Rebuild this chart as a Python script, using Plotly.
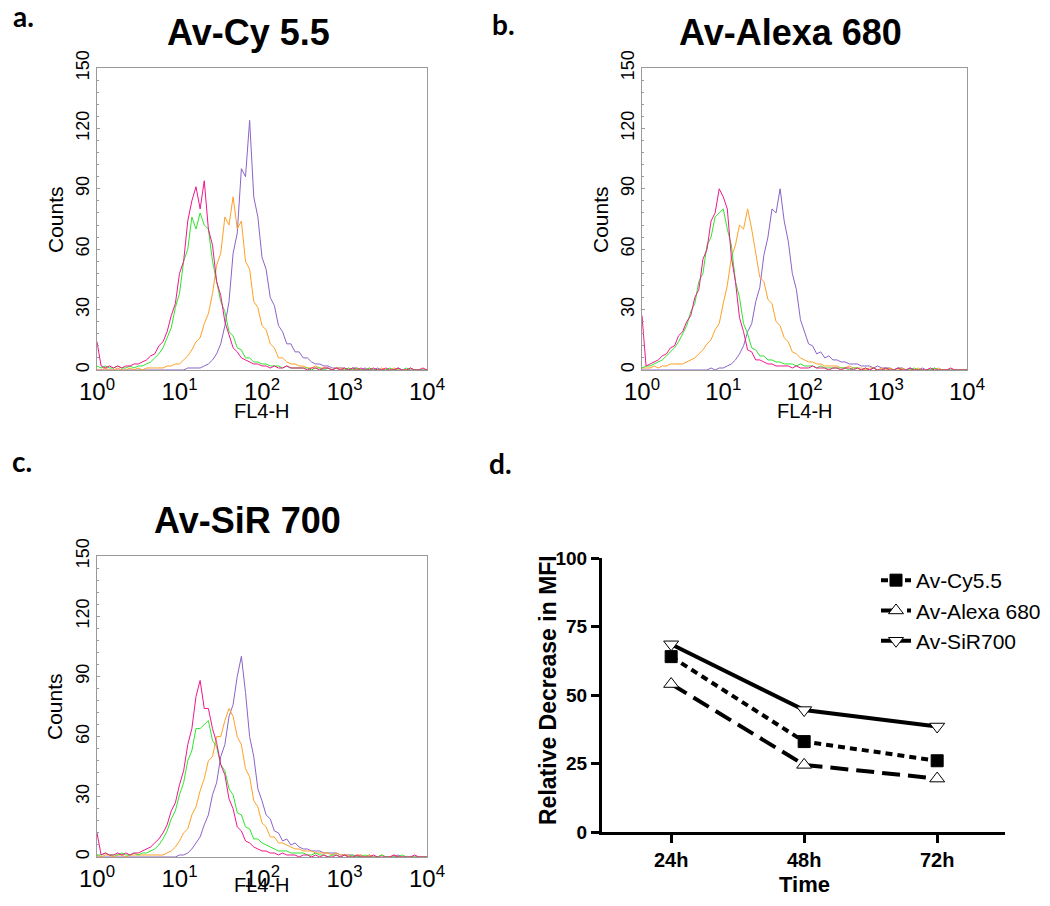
import plotly.graph_objects as go

# The page body keeps its default 8px margin, so the figure is drawn 8px in
# from the top-left corner; size it so it fits the 1050x906 window exactly.
PAGE_OFFSET = 8
W, H = 1050 - 2 * PAGE_OFFSET, 906 - 2 * PAGE_OFFSET


def fx(p):
    return (p - PAGE_OFFSET) / W


def fy(p):
    return 1 - (p - PAGE_OFFSET) / H


# ---------------- data ----------------
# channel positions (log10 of FL4-H), 0.05 decade bins
channel_log = [round(i * 0.05, 2) for i in range(81)]
channel = [10 ** v for v in channel_log]

# Panel a: Av-Cy 5.5
cy_magenta = [14, 2, 1, 2, 1, 2, 1, 2, 2, 3,
              3, 4, 5, 7, 8, 12, 14, 19, 27, 33,
              48, 54, 74, 84, 91, 80, 94, 70, 62, 44,
              37, 24, 18, 11, 9, 6, 5, 4, 3, 3,
              2, 2, 1, 2, 1, 1, 2, 1, 1, 1,
              1, 0, 1, 1, 0, 1, 1, 0, 1, 0,
              1, 0, 1, 0, 1, 0, 0, 1, 0, 0,
              1, 0, 0, 1, 0, 0, 1, 0, 0, 1,
              0]
cy_green = [2, 1, 2, 1, 1, 2, 1, 1, 2, 1,
            2, 2, 3, 4, 6, 8, 11, 16, 21, 31,
            38, 54, 60, 76, 70, 78, 72, 70, 54, 44,
            34, 29, 19, 17, 11, 10, 6, 6, 4, 4,
            3, 3, 2, 2, 2, 1, 2, 1, 1, 1,
            1, 1, 0, 1, 1, 0, 1, 0, 1, 0,
            0, 1, 0, 1, 0, 0, 1, 0, 0, 0,
            0, 1, 0, 0, 0, 1, 0, 0, 0, 0,
            0]
cy_orange = [0, 0, 1, 0, 0, 1, 0, 0, 1, 0,
             1, 0, 1, 1, 1, 1, 1, 2, 2, 3,
             3, 5, 7, 10, 14, 16, 23, 28, 38, 52,
             58, 76, 72, 86, 70, 74, 54, 50, 34, 31,
             22, 20, 13, 11, 6, 6, 4, 3, 3, 2,
             2, 1, 1, 2, 1, 1, 1, 0, 1, 1,
             0, 1, 0, 1, 0, 0, 1, 0, 0, 1,
             0, 0, 1, 0, 0, 0, 1, 0, 0, 0,
             0]
cy_purple = [0, 0, 0, 0, 0, 0, 0, 0, 0, 0,
             0, 0, 0, 0, 0, 0, 0, 0, 0, 0,
             0, 0, 1, 1, 1, 1, 2, 3, 5, 8,
             13, 22, 34, 58, 68, 100, 96, 124, 86, 76,
             56, 50, 36, 32, 22, 19, 13, 13, 9, 9,
             6, 6, 4, 3, 3, 2, 2, 1, 1, 1,
             1, 0, 1, 1, 0, 1, 0, 0, 1, 0,
             0, 0, 0, 1, 0, 0, 0, 0, 0, 0,
             0]

# Panel b: Av-Alexa 680
ax_magenta = [27, 2, 3, 4, 5, 7, 8, 11, 12, 17,
              19, 24, 27, 36, 40, 55, 60, 74, 78, 90,
              86, 80, 56, 44, 26, 19, 10, 9, 5, 5,
              4, 3, 3, 2, 2, 2, 2, 1, 2, 1,
              1, 1, 2, 1, 1, 1, 0, 1, 1, 0,
              1, 1, 0, 1, 0, 1, 0, 1, 0, 0,
              1, 0, 0, 1, 0, 0, 1, 0, 0, 0,
              0, 1, 0, 0, 0, 0, 1, 0, 0, 0,
              0]
ax_green = [1, 2, 2, 3, 4, 5, 7, 9, 11, 14,
            18, 22, 29, 33, 44, 48, 62, 66, 76, 78,
            80, 70, 62, 44, 36, 23, 18, 11, 10, 7,
            7, 5, 5, 4, 4, 3, 3, 3, 2, 3,
            2, 2, 2, 1, 2, 1, 1, 1, 1, 1,
            1, 0, 1, 1, 0, 1, 0, 1, 0, 0,
            1, 0, 0, 1, 0, 0, 0, 1, 0, 0,
            0, 0, 1, 0, 0, 0, 0, 0, 0, 0,
            0]
ax_orange = [1, 1, 1, 2, 1, 2, 2, 3, 3, 3,
             3, 4, 5, 6, 8, 10, 13, 15, 20, 23,
             33, 42, 56, 62, 72, 70, 80, 70, 58, 46,
             44, 35, 33, 24, 22, 16, 14, 9, 8, 6,
             5, 4, 4, 3, 3, 2, 2, 2, 2, 1,
             1, 2, 1, 1, 1, 0, 1, 1, 0, 1,
             0, 1, 0, 0, 1, 0, 0, 0, 1, 0,
             0, 0, 0, 1, 0, 0, 0, 0, 0, 0,
             0]
ax_purple = [0, 0, 0, 0, 0, 0, 0, 0, 0, 0,
             0, 0, 0, 0, 0, 0, 0, 1, 0, 1,
             1, 2, 3, 5, 8, 12, 19, 23, 34, 41,
             57, 66, 80, 78, 90, 74, 64, 48, 40, 25,
             19, 13, 12, 8, 9, 6, 7, 5, 5, 4,
             4, 3, 3, 3, 2, 2, 2, 1, 2, 1,
             1, 1, 0, 1, 1, 0, 1, 0, 0, 1,
             0, 0, 1, 0, 0, 0, 0, 0, 0, 0,
             0]

# Panel c: Av-SiR 700
sir_magenta = [12, 1, 2, 1, 1, 2, 1, 2, 1, 2,
               2, 3, 4, 5, 7, 9, 12, 16, 23, 27,
               36, 43, 56, 64, 80, 88, 74, 74, 64, 57,
               46, 41, 29, 24, 15, 13, 8, 7, 5, 4,
               3, 3, 2, 2, 1, 2, 1, 1, 1, 0,
               1, 1, 0, 1, 0, 1, 0, 0, 1, 0,
               1, 0, 0, 1, 0, 0, 0, 1, 0, 0,
               0, 0, 1, 0, 0, 0, 0, 1, 0, 0,
               0]
sir_green = [1, 1, 2, 1, 1, 1, 2, 1, 1, 2,
             1, 2, 2, 3, 4, 6, 9, 13, 19, 23,
             31, 37, 48, 53, 64, 64, 66, 68, 58, 55,
             46, 43, 34, 31, 22, 21, 15, 14, 9, 9,
             7, 6, 5, 4, 3, 3, 3, 2, 2, 2,
             2, 1, 1, 2, 1, 1, 0, 1, 1, 0,
             1, 0, 1, 0, 0, 1, 0, 0, 0, 1,
             0, 0, 0, 0, 1, 0, 0, 0, 0, 0,
             0]
sir_orange = [1, 0, 1, 1, 0, 1, 1, 0, 1, 1,
              1, 1, 1, 1, 1, 1, 1, 2, 3, 5,
              8, 12, 14, 21, 25, 33, 39, 48, 50, 60,
              60, 68, 74, 70, 60, 56, 44, 40, 28, 25,
              17, 15, 10, 10, 7, 7, 6, 5, 4, 4,
              3, 3, 3, 2, 2, 2, 2, 1, 2, 1,
              1, 1, 0, 1, 1, 0, 1, 0, 0, 1,
              0, 0, 1, 0, 0, 0, 0, 0, 0, 0,
              0]
sir_purple = [0, 0, 0, 0, 0, 0, 0, 0, 0, 0,
              0, 0, 0, 0, 0, 0, 0, 0, 0, 0,
              1, 1, 2, 4, 7, 10, 16, 21, 31, 37,
              50, 56, 70, 76, 90, 100, 82, 60, 50, 34,
              28, 21, 19, 13, 12, 8, 9, 6, 7, 5,
              4, 4, 3, 3, 3, 2, 2, 2, 2, 1,
              1, 1, 1, 0, 1, 0, 1, 0, 0, 1,
              0, 0, 0, 1, 0, 0, 0, 0, 0, 0,
              0]

# Panel d: relative decrease in MFI
time_labels = ["24h", "48h", "72h"]
mfi_cy55 = [64, 33, 26]
mfi_alexa680 = [54, 24.5, 19.5]
mfi_sir700 = [68.5, 44.5, 38.5]

hist_ticks_y = [0, 30, 60, 90, 120, 150]
hist_ticks_x = [1, 10, 100, 1000, 10000]
hist_ticktext = ["10<sup>0</sup>", "10<sup>1</sup>", "10<sup>2</sup>",
                 "10<sup>3</sup>", "10<sup>4</sup>"]

COL = {"purple": "#8a64c8", "orange": "#ffa024", "green": "#2ee52e", "magenta": "#f0168c"}
FONT = "Liberation Sans, Arial, Helvetica, sans-serif"
LETTER_FONT = "Lato, Open Sans, sans-serif"

fig = go.Figure()

panels = [
    ("", [cy_purple, cy_orange, cy_green, cy_magenta]),
    ("2", [ax_purple, ax_orange, ax_green, ax_magenta]),
    ("3", [sir_purple, sir_orange, sir_green, sir_magenta]),
]
for suffix, series in panels:
    for vals, cname in zip(series, ["purple", "orange", "green", "magenta"]):
        fig.add_trace(go.Scatter(
            x=channel, y=vals, mode="lines",
            line=dict(color=COL[cname], width=1),
            xaxis="x" + suffix, yaxis="y" + suffix,
            showlegend=False, hoverinfo="skip",
        ))

# panel d traces (category positions 0,1,2 labelled by time_labels)
time_pos = list(range(len(time_labels)))
fig.add_trace(go.Scatter(
    x=time_pos, y=mfi_cy55, mode="lines+markers", name="Av-Cy5.5",
    line=dict(color="black", width=4, dash="7px,5px"),
    marker=dict(symbol="square", size=12, color="black", line=dict(color="black", width=1)),
    xaxis="x4", yaxis="y4", legendgroup="a",
))
fig.add_trace(go.Scatter(
    x=time_pos, y=mfi_alexa680, mode="lines+markers", name="Av-Alexa 680",
    line=dict(color="black", width=4, dash="18px,8px"),
    marker=dict(symbol="triangle-up", size=13, color="white", line=dict(color="black", width=1)),
    xaxis="x4", yaxis="y4", legendgroup="b",
))
fig.add_trace(go.Scatter(
    x=time_pos, y=mfi_sir700, mode="lines+markers", name="Av-SiR700",
    line=dict(color="black", width=4),
    marker=dict(symbol="triangle-down", size=13, color="white", line=dict(color="black", width=1)),
    xaxis="x4", yaxis="y4", legendgroup="c",
))


def hist_axes(x0, x1, y0, y1, suffix):
    xa = dict(
        domain=[fx(x0), fx(x1)], anchor="y" + suffix, type="log", range=[0, 4],
        tickvals=hist_ticks_x, ticktext=hist_ticktext, ticks="",
        showline=True, mirror=True, linecolor="#9a9a9a", linewidth=1,
        showgrid=False, zeroline=False, automargin=False,
        tickfont=dict(family=FONT, size=24, color="black"),
    )
    ya = dict(
        domain=[fy(y1), fy(y0)], anchor="x" + suffix, range=[0, 150],
        tickvals=hist_ticks_y, tickangle=-90, ticks="inside", ticklen=3,
        tickcolor="#9a9a9a",
        minor=dict(dtick=6, ticks="inside", ticklen=2, tickcolor="#9a9a9a"),
        showline=True, mirror=True, linecolor="#9a9a9a", linewidth=1,
        showgrid=False, zeroline=False, automargin=False,
        tickfont=dict(family=FONT, size=18, color="black"),
    )
    return xa, ya


xa1, ya1 = hist_axes(97, 427, 68, 370, "")
xa2, ya2 = hist_axes(642, 967, 68, 370, "2")
xa3, ya3 = hist_axes(97, 427, 556, 857, "3")

fig.update_layout(
    width=W, height=H,
    margin=dict(l=0, r=0, t=0, b=0, pad=0, autoexpand=False),
    paper_bgcolor="white", plot_bgcolor="white",
    xaxis=xa1, yaxis=ya1, xaxis2=xa2, yaxis2=ya2, xaxis3=xa3, yaxis3=ya3,
    xaxis4=dict(
        domain=[fx(602), fx(1005)], anchor="y4", range=[-0.52, 2.51],
        tickvals=time_pos, ticktext=time_labels,
        showline=True, linecolor="black", linewidth=3,
        ticks="outside", ticklen=8, tickwidth=3, tickcolor="black",
        showgrid=False, zeroline=False, automargin=False,
        tickfont=dict(family=FONT, size=20, color="black", weight="bold"),
    ),
    yaxis4=dict(
        domain=[fy(832), fy(558)], anchor="x4", range=[0, 100],
        tickvals=[0, 25, 50, 75, 100],
        showline=True, linecolor="black", linewidth=3,
        ticks="outside", ticklen=8, tickwidth=3, tickcolor="black",
        showgrid=False, zeroline=False, automargin=False,
        tickfont=dict(family=FONT, size=19, color="black", weight="bold"),
    ),
    legend=dict(
        x=fx(876), y=fy(560), xanchor="left", yanchor="top",
        bgcolor="rgba(0,0,0,0)", font=dict(family=FONT, size=21, color="black"),
        traceorder="normal", tracegroupgap=5,
    ),
    showlegend=True,
)

annotations = [
    # panel letters
    dict(text="a.", x=fx(11), y=fy(16), xanchor="left", yanchor="middle",
         font=dict(family=LETTER_FONT, size=28, color="black", weight="bold")),
    dict(text="b.", x=fx(490), y=fy(24), xanchor="left", yanchor="middle",
         font=dict(family=LETTER_FONT, size=28, color="black", weight="bold")),
    dict(text="c.", x=fx(10), y=fy(461), xanchor="left", yanchor="middle",
         font=dict(family=LETTER_FONT, size=28, color="black", weight="bold")),
    dict(text="d.", x=fx(487), y=fy(463), xanchor="left", yanchor="middle",
         font=dict(family=LETTER_FONT, size=28, color="black", weight="bold")),
    # titles
    dict(text="Av-Cy 5.5", x=fx(248), y=fy(33), xanchor="center", yanchor="middle",
         font=dict(family=FONT, size=36, color="black", weight="bold")),
    dict(text="Av-Alexa 680", x=fx(790), y=fy(33), xanchor="center", yanchor="middle",
         font=dict(family=FONT, size=36, color="black", weight="bold")),
    dict(text="Av-SiR 700", x=fx(247), y=fy(520), xanchor="center", yanchor="middle",
         font=dict(family=FONT, size=36, color="black", weight="bold")),
    # histogram axis titles
    dict(text="Counts", x=fx(55), y=fy(220), textangle=-90, xanchor="center", yanchor="middle",
         font=dict(family=FONT, size=21, color="black")),
    dict(text="Counts", x=fx(600), y=fy(220), textangle=-90, xanchor="center", yanchor="middle",
         font=dict(family=FONT, size=21, color="black")),
    dict(text="Counts", x=fx(54), y=fy(707), textangle=-90, xanchor="center", yanchor="middle",
         font=dict(family=FONT, size=21, color="black")),
    dict(text="FL4-H", x=fx(262), y=fy(411), xanchor="center", yanchor="middle",
         font=dict(family=FONT, size=20, color="black")),
    dict(text="FL4-H", x=fx(805), y=fy(411), xanchor="center", yanchor="middle",
         font=dict(family=FONT, size=20, color="black")),
    dict(text="FL4-H", x=fx(262), y=fy(885), xanchor="center", yanchor="middle",
         font=dict(family=FONT, size=20, color="black")),
    # panel d axis titles
    dict(text="Relative Decrease in MFI", x=fx(548), y=fy(690), textangle=-90,
         xanchor="center", yanchor="middle",
         font=dict(family=FONT, size=23, color="black", weight="bold")),
    dict(text="Time", x=fx(804), y=fy(884), xanchor="center", yanchor="middle",
         font=dict(family=FONT, size=22, color="black", weight="bold")),
]
for a in annotations:
    a.update(xref="paper", yref="paper", showarrow=False)
fig.update_layout(annotations=annotations)

fig.write_html("out.html")
